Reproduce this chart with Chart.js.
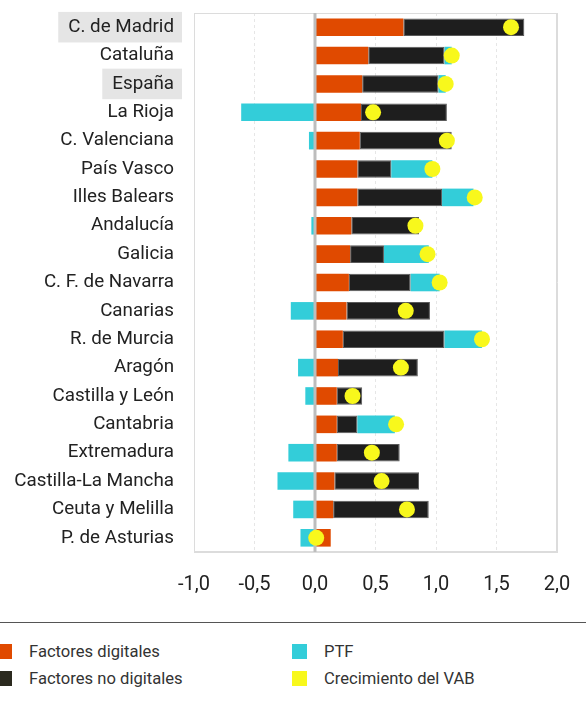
<!DOCTYPE html>
<html>
<head>
<meta charset="utf-8">
<script src="https://cdn.jsdelivr.net/npm/chart.js@4"></script>
<style>
  html, body { margin:0; padding:0; background:#fff; }
  body { width:586px; height:702px; position:relative; overflow:hidden; font-family: Roboto, "Noto Sans", sans-serif; }
  #wrap { position:absolute; left:0; top:0; width:586px; height:612px; }
  #rule { position:absolute; left:0; top:622px; width:586px; height:0; border-top:1.5px solid #555; }
  .lg { position:absolute; font-size:16.6px; color:#333; line-height:20px; white-space:nowrap; }
  .sw { position:absolute; width:15px; height:15px; }
</style>
</head>
<body>
<div id="wrap"><canvas id="c" width="586" height="612"></canvas></div>
<div id="rule"></div>
<div class="sw" style="left:-3px;top:644px;background:#e04a00"></div>
<div class="lg" style="left:29px;top:642px">Factores digitales</div>
<div class="sw" style="left:-3px;top:671px;background:#2b2a1f"></div>
<div class="lg" style="left:29px;top:669px">Factores no digitales</div>
<div class="sw" style="left:292px;top:644px;background:#33cdd9"></div>
<div class="lg" style="left:324px;top:642px">PTF</div>
<div class="sw" style="left:292px;top:671px;background:#f8f81c"></div>
<div class="lg" style="left:324px;top:669px">Crecimiento del VAB</div>
<script>
const categories = ['C. de Madrid','Cataluña','España','La Rioja','C. Valenciana','País Vasco','Illes Balears','Andalucía','Galicia','C. F. de Navarra','Canarias','R. de Murcia','Aragón','Castilla y León','Cantabria','Extremadura','Castilla-La Mancha','Ceuta y Melilla','P. de Asturias'];
const digital   = [0.73,0.44,0.39,0.38,0.37,0.35,0.35,0.30,0.29,0.28,0.26,0.23,0.19,0.18,0.18,0.18,0.16,0.15,0.13];
const noDigital = [1.00,0.63,0.63,0.71,0.76,0.28,0.70,0.56,0.28,0.51,0.69,0.84,0.66,0.21,0.17,0.52,0.70,0.79,0.00];
const ptf       = [0.00,0.06,0.06,-0.61,-0.05,0.34,0.26,-0.03,0.37,0.24,-0.20,0.31,-0.14,-0.08,0.31,-0.22,-0.31,-0.18,-0.12];
const vab       = [1.62,1.13,1.08,0.48,1.09,0.97,1.32,0.83,0.93,1.03,0.75,1.38,0.71,0.31,0.67,0.47,0.55,0.76,0.01];
const xTicks    = [-1,-0.5,0,0.5,1,1.5,2];
const highlighted = ['C. de Madrid','España'];

const frame = {
  id:'frame',
  beforeDatasetsDraw(chart){
    const {ctx, chartArea:a} = chart;
    ctx.save(); ctx.strokeStyle='#dcdcdc'; ctx.lineWidth=1;
    ctx.strokeRect(a.left+0.5, a.top+0.5, a.right-a.left-1, a.bottom-a.top-1);
    ctx.restore();
  },
  beforeDatasetDraw(chart, args){
    if (args.meta.type !== 'line') return;
    const {ctx, chartArea:a, scales} = chart;
    const x = scales.x.getPixelForValue(0);
    ctx.save(); ctx.strokeStyle='#bdbdbd'; ctx.lineWidth=3;
    ctx.beginPath(); ctx.moveTo(x, a.top); ctx.lineTo(x, a.bottom); ctx.stroke();
    ctx.restore();
  }
};

new Chart(document.getElementById('c'), {
  type:'bar',
  data:{
    labels: categories,
    datasets:[
      {label:'Factores digitales', data:digital, backgroundColor:'#e04a00', stack:'s', order:1},
      {label:'Factores no digitales', data:noDigital, backgroundColor:'#1e1e1e', borderColor:'#5a5a5a', borderWidth:1, borderSkipped:false, stack:'s', order:1},
      {label:'PTF', data:ptf, backgroundColor:'#33cdd9', stack:'s', order:1},
      {label:'Crecimiento del VAB', type:'line', data:vab, indexAxis:'y', showLine:false, stack:'dots', order:0,
       pointRadius:8, pointHoverRadius:8, pointBackgroundColor:'#f8f81c', pointBorderWidth:0, borderColor:'#f8f81c', backgroundColor:'#f8f81c'}
    ]
  },
  options:{
    indexAxis:'y',
    responsive:false,
    animation:false,
    events:[],
    layout:{padding:{left:0, right:29, top:13, bottom:0}},
    datasets:{bar:{barPercentage:0.62, categoryPercentage:1}},
    plugins:{legend:{display:false}, tooltip:{enabled:false}},
    scales:{
      x:{
        type:'linear', stacked:true, min:-1, max:2,
        afterBuildTicks(scale){ scale.ticks = xTicks.map(v=>({value:v})); },
        afterFit(scale){ scale.height = 60; scale.paddingLeft = 0; scale.paddingRight = 0; },
        ticks:{
          padding:21, color:'#222', font:{family:'Roboto', size:20},
          callback:v => v.toFixed(1).replace('.', ',')
        },
        grid:{
          drawTicks:false,
          color:ctx => (ctx.tick && ctx.tick.value===0) ? 'rgba(0,0,0,0)' :
                       (ctx.tick && (ctx.tick.value===-1 || ctx.tick.value===2)) ? '#dcdcdc' : '#e6e6e6'
        },
        border:{display:true, color:'#dcdcdc',
          dash:ctx => (ctx.tick && ctx.tick.value>-1 && ctx.tick.value<2) ? [3,3] : []}
      },
      y:{
        type:'category', stacked:true,
        afterFit(scale){ scale.width = 194; scale.paddingTop = 0; scale.paddingBottom = 0; },
        grid:{display:false, drawTicks:false},
        border:{display:true, color:'#dcdcdc'},
        ticks:{
          padding:20, color:'#222', font:{family:'Roboto', size:18.8},
          showLabelBackdrop: ctx => highlighted.includes(categories[ctx.index]),
          backdropColor:'#e5e5e5',
          backdropPadding:{left:10, right:8, top:4, bottom:4}
        }
      }
    }
  },
  plugins:[frame]
});
</script>
</body>
</html>
